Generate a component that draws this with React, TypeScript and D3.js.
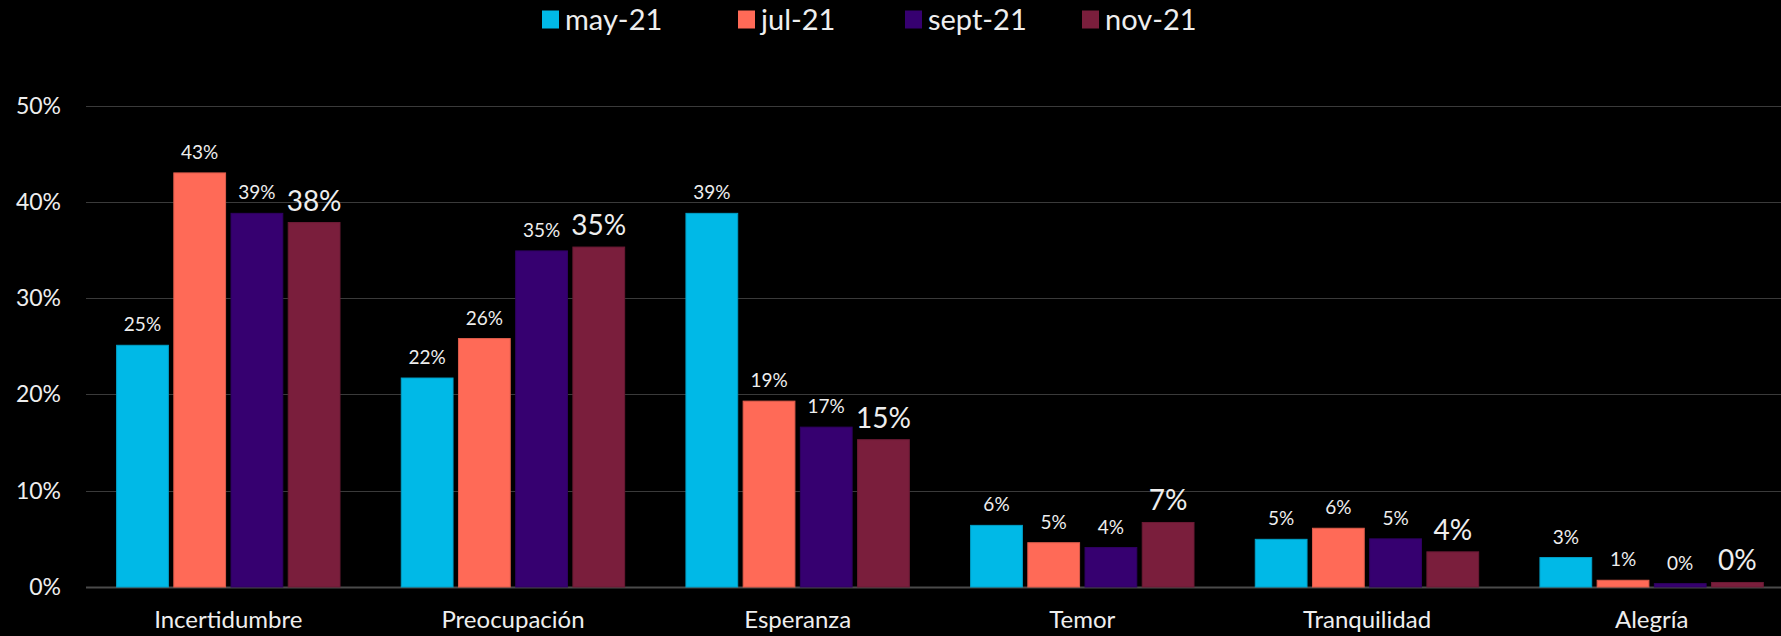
import React, { useEffect, useRef } from "react";
import * as d3 from "d3";

const categories = ["Incertidumbre", "Preocupación", "Esperanza", "Temor", "Tranquilidad", "Alegría"];
const seriesNames = ["may-21", "jul-21", "sept-21", "nov-21"];
const seriesColors = ["#00B9E7", "#FF6A57", "#360070", "#7A1E3C"];

const may21 = [25.1, 21.7, 38.8, 6.4, 4.95, 3.06];
const jul21 = [43.0, 25.8, 19.3, 4.6, 6.1, 0.7];
const sept21 = [38.8, 34.9, 16.6, 4.1, 5.0, 0.35];
const nov21 = [37.85, 35.3, 15.3, 6.7, 3.65, 0.47];

const yTicks = [0, 10, 20, 30, 40, 50];

const W = 1781;
const H = 636;
const FONT = "Lato, 'Open Sans', sans-serif";

const App = () => {
  const ref = useRef<SVGSVGElement>(null);

  useEffect(() => {
    document.body.style.margin = "0";
    document.body.style.background = "#000";

    const svg = d3.select(ref.current);
    svg.selectAll("*").remove();

    const values = [may21, jul21, sept21, nov21];

    const x0 = d3.scaleBand().domain(categories).range([86, 1794]).paddingInner(0).paddingOuter(0);
    const x1 = d3.scaleBand().domain(seriesNames).range([30.6, 254]).paddingInner(0.095);
    const y = d3.scaleLinear().domain([0, 50]).range([587, 105.5]);

    svg.append("rect").attr("width", W).attr("height", H).attr("fill", "#000");

    // gridlines
    svg
      .append("g")
      .selectAll("line")
      .data(yTicks)
      .enter()
      .append("line")
      .attr("x1", 86)
      .attr("x2", W)
      .attr("y1", (d) => Math.round(y(d)) + 0.5)
      .attr("y2", (d) => Math.round(y(d)) + 0.5)
      .attr("stroke", (d) => (d === 0 ? "#4a4a4a" : "#3a3a3a"))
      .attr("stroke-width", (d) => (d === 0 ? 2 : 1));

    // y labels
    svg
      .append("g")
      .selectAll("text")
      .data(yTicks)
      .enter()
      .append("text")
      .attr("x", 61)
      .attr("y", (d) => y(d))
      .attr("dy", "0.35em")
      .attr("text-anchor", "end")
      .attr("fill", "#eeeeee")
      .style("font-family", FONT)
      .style("font-size", "23px")
      .text((d) => d + "%");

    // bars
    const groups = svg
      .append("g")
      .selectAll("g")
      .data(categories)
      .enter()
      .append("g")
      .attr("transform", (d) => "translate(" + x0(d) + ",0)");

    groups
      .selectAll("rect")
      .data((_c, i) => seriesNames.map((s, j) => ({ s, j, v: values[j][i] })))
      .enter()
      .append("rect")
      .attr("x", (d) => x1(d.s)!)
      .attr("width", x1.bandwidth())
      .attr("y", (d) => y(d.v))
      .attr("height", (d) => y(0) - y(d.v))
      .attr("fill", (d) => seriesColors[d.j])
      .attr("stroke", (d) => d3.color(seriesColors[d.j])!.darker(0.4).toString())
      .attr("stroke-width", 1);

    groups
      .selectAll("text")
      .data((_c, i) => seriesNames.map((s, j) => ({ s, j, v: values[j][i] })))
      .enter()
      .append("text")
      .attr("x", (d) => x1(d.s)! + x1.bandwidth() / 2)
      .attr("y", (d) => y(d.v) - (d.j === 3 ? 12 : 14))
      .attr("text-anchor", "middle")
      .attr("fill", "#eeeeee")
      .style("font-family", FONT)
      .style("font-size", (d) => (d.j === 3 ? "28px" : "19px"))
      .text((d) => Math.round(d.v) + "%");

    // category labels
    svg
      .append("g")
      .selectAll("text")
      .data(categories)
      .enter()
      .append("text")
      .attr("x", (d) => x0(d)! + x0.bandwidth() / 2)
      .attr("y", 628)
      .attr("text-anchor", "middle")
      .attr("fill", "#eeeeee")
      .style("font-family", FONT)
      .style("font-size", "24px")
      .text((d) => d);

    // legend
    const legendX = [542, 738, 905, 1082];
    const legend = svg
      .append("g")
      .selectAll("g")
      .data(seriesNames)
      .enter()
      .append("g")
      .attr("transform", (_d, i) => "translate(" + legendX[i] + ",0)");
    legend
      .append("rect")
      .attr("x", 0)
      .attr("y", 10.5)
      .attr("width", 17)
      .attr("height", 18)
      .attr("fill", (_d, i) => seriesColors[i]);
    legend
      .append("text")
      .attr("x", 23)
      .attr("y", 20)
      .attr("dy", "0.35em")
      .attr("fill", "#eeeeee")
      .style("font-family", FONT)
      .style("font-size", "29px")
      .text((d) => d);
  }, []);

  return <svg ref={ref} width={W} height={H} style={{ display: "block" }} />;
};

export default App;
